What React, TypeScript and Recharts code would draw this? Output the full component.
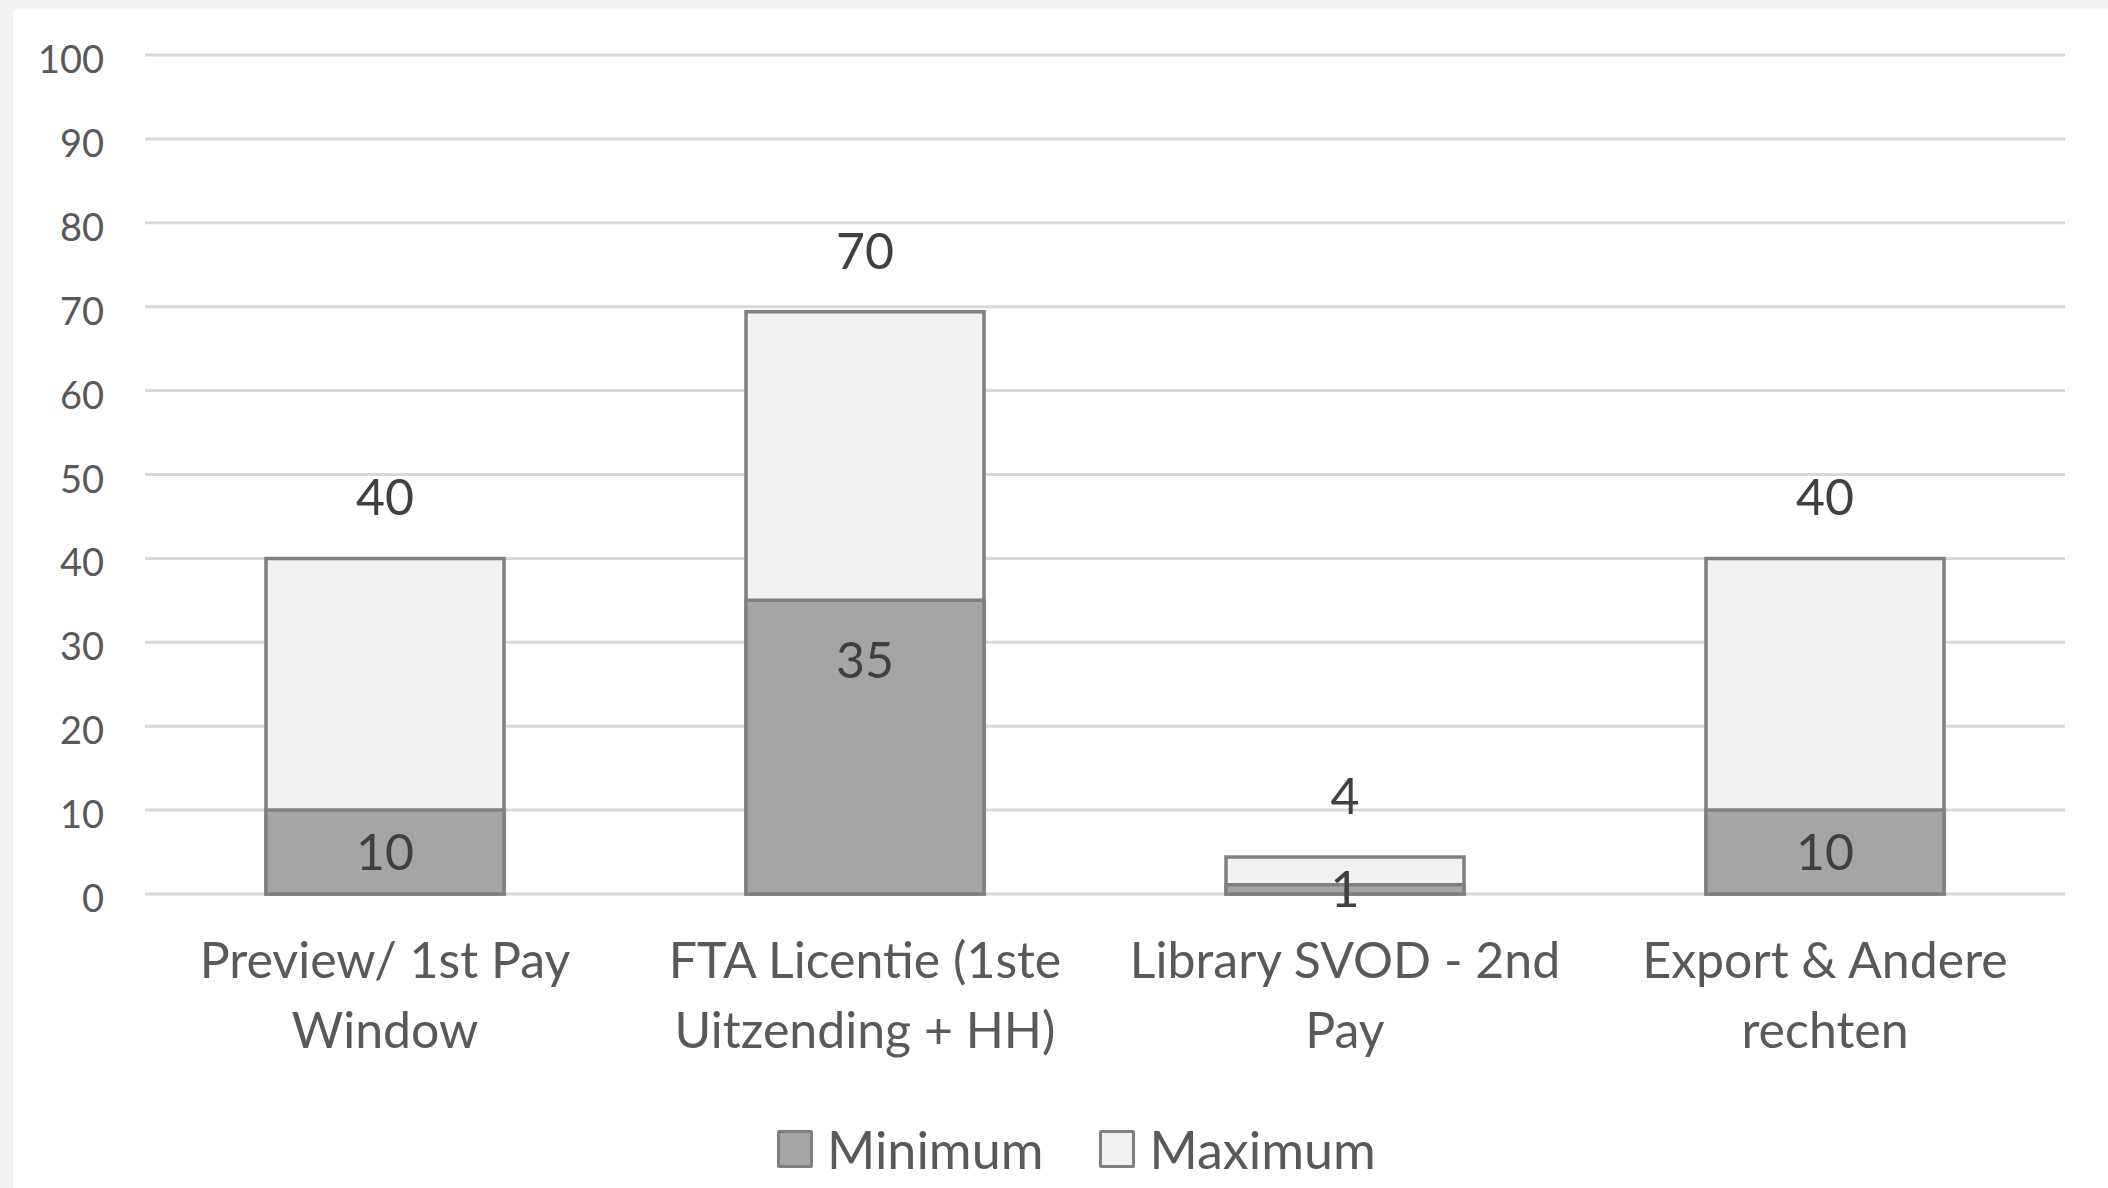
import { Bar, BarChart, CartesianGrid, LabelList, Legend, XAxis, YAxis } from "recharts";

const categories = [
  "Preview/ 1st Pay Window",
  "FTA Licentie (1ste Uitzending + HH)",
  "Library SVOD - 2nd Pay",
  "Export & Andere rechten",
];
// how each category label breaks over two lines
const categoryLines = [
  ["Preview/ 1st Pay", "Window"],
  ["FTA Licentie (1ste", "Uitzending + HH)"],
  ["Library SVOD - 2nd", "Pay"],
  ["Export & Andere", "rechten"],
];
const minimum = [10, 35, 1.1, 10];
const maximum = [40, 69.4, 4.4, 40];
const maximumLabels = ["40", "70", "4", "40"];
const yTicks = [0, 10, 20, 30, 40, 50, 60, 70, 80, 90, 100];
const seriesNames = ["Minimum", "Maximum"];

const FONT = "Lato, 'Open Sans', sans-serif";
const TEXT = "#595959";
const LABEL = "#404040";
const EDGE = "#808080";
const MIN_FILL = "#a5a5a5";
const MAX_FILL = "#f2f2f2";

const data = categories.map((name, i) => ({
  name,
  min: minimum[i],
  max: maximum[i],
}));

function YTick({ x, y, payload }: any) {
  return (
    <text x={x} y={y + 18} textAnchor="end" fill={TEXT} fontSize={38} fontFamily={FONT}>
      {payload.value}
    </text>
  );
}

function XTick({ x, y, index }: any) {
  const lines = categoryLines[index] || [];
  return (
    <text x={x} y={y} textAnchor="middle" fill={TEXT} fontSize={50} fontFamily={FONT}>
      {lines.map((line, i) => (
        <tspan key={i} x={x} y={y + 84 + i * 70}>
          {line}
        </tspan>
      ))}
    </text>
  );
}

// label for the minimum bar: centred, but never lower than 60px under the bar top
function MinLabel({ x, y, width, height, value }: any) {
  const cy = y + Math.min(height / 2, 60);
  return (
    <text x={x + width / 2} y={cy + 18} textAnchor="middle" fill={LABEL} fontSize={50} fontFamily={FONT}>
      {Math.round(value)}
    </text>
  );
}

function MaxLabel({ x, y, width, index }: any) {
  return (
    <text x={x + width / 2} y={y - 43} textAnchor="middle" fill={LABEL} fontSize={50} fontFamily={FONT}>
      {maximumLabels[index]}
    </text>
  );
}

function LegendContent() {
  const fills = [MIN_FILL, MAX_FILL];
  return (
    <div
      style={{
        display: "flex",
        alignItems: "center",
        height: 64,
        paddingLeft: 777,
        fontFamily: FONT,
        fontSize: 52,
        color: TEXT,
      }}
    >
      {seriesNames.map((name, i) => (
        <div key={name} style={{ display: "flex", alignItems: "center", marginRight: 56 }}>
          <div
            style={{
              width: 30,
              height: 32,
              background: fills[i],
              border: `3px solid ${EDGE}`,
              borderRadius: 2,
              marginRight: 14,
            }}
          />
          <span>{name}</span>
        </div>
      ))}
    </div>
  );
}

export default function App() {
  return (
    <div style={{ position: "absolute", left: 0, top: 0, width: 2108, height: 1188, background: "#f2f2f2" }}>
      <div style={{ position: "absolute", left: 13, top: 9, right: 0, bottom: 0, background: "#ffffff" }} />
      <div style={{ position: "absolute", left: 0, top: 0 }}>
        <BarChart
          width={2108}
          height={1188}
          data={data}
          margin={{ top: 55, right: 43, bottom: 7, left: 0 }}
          barSize={238}
          barGap={-238}
        >
          <CartesianGrid vertical={false} stroke="#d9d9d9" strokeWidth={3} />
          <XAxis
            dataKey="name"
            axisLine={false}
            tickLine={false}
            tickSize={0}
            tickMargin={0}
            height={223}
            interval={0}
            tick={<XTick />}
          />
          <YAxis
            domain={[0, 100]}
            ticks={yTicks}
            axisLine={false}
            tickLine={false}
            tickSize={0}
            tickMargin={41}
            width={145}
            tick={<YTick />}
          />
          <Legend verticalAlign="bottom" content={<LegendContent />} wrapperStyle={{ height: 64 }} />
          <Bar dataKey="max" name="Maximum" fill={MAX_FILL} stroke={EDGE} strokeWidth={3.5} isAnimationActive={false}>
            <LabelList dataKey="max" content={<MaxLabel />} />
          </Bar>
          <Bar dataKey="min" name="Minimum" fill={MIN_FILL} stroke={EDGE} strokeWidth={3.5} isAnimationActive={false}>
            <LabelList dataKey="min" content={<MinLabel />} />
          </Bar>
        </BarChart>
      </div>
    </div>
  );
}
